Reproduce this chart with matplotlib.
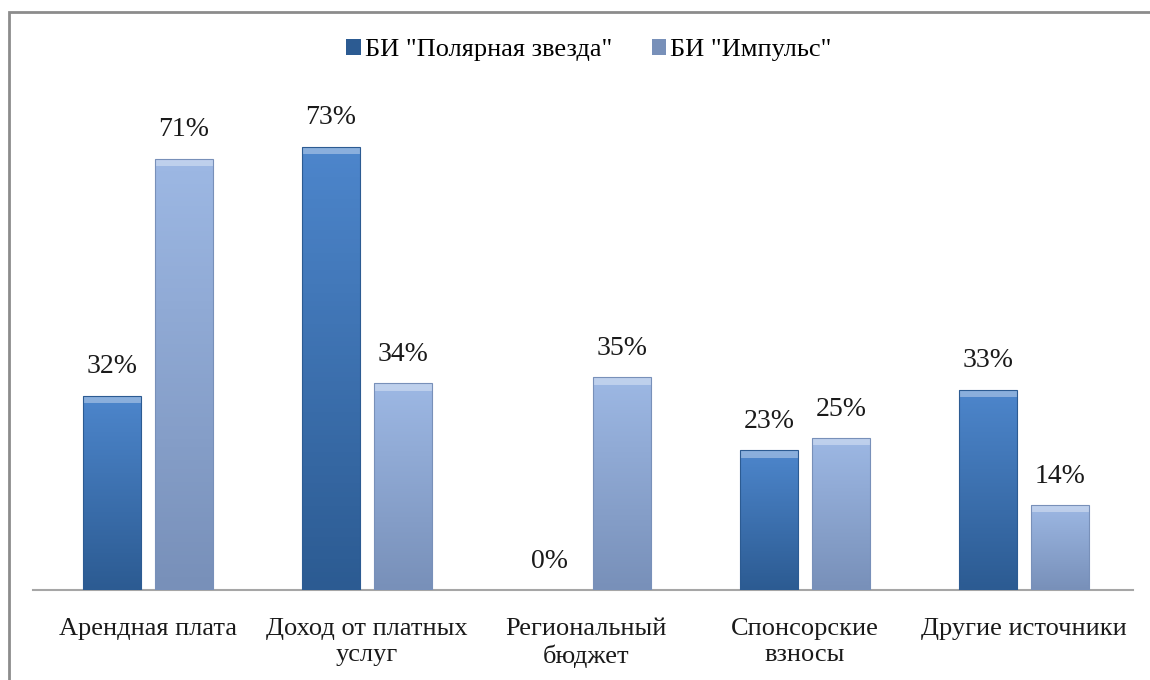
import matplotlib.pyplot as plt
import numpy as np
from matplotlib.patches import Rectangle
from matplotlib.colors import LinearSegmentedColormap

categories = ["Арендная плата", "Доход от платных\nуслуг", "Региональный\nбюджет",
              "Спонсорские\nвзносы", "Другие источники"]
polar_star = [0.32, 0.73, 0.0, 0.23, 0.33]
impulse = [0.71, 0.34, 0.35, 0.25, 0.14]
series_names = ['БИ "Полярная звезда"', 'БИ "Импульс"']

plt.rcParams["font.family"] = ["Liberation Serif", "DejaVu Serif"]

W, H = 1150, 680
FS = 19
CAT = 219  # px per category
fig = plt.figure(figsize=(W / 100, H / 100), dpi=100)
# axes: baseline at y=590 px, from 33 to 1133 px, top (0.8) at 104 px
ax = fig.add_axes([33 / W, (H - 590) / H, 1100 / W, (590 - 104) / H])

x = np.arange(len(categories))
width = 58 / CAT
offset = 36 / CAT
colors = [("#4d86cc", "#2c5b92"), ("#9db8e4", "#7890b9")]

for vals, off, (ctop, cbot), name in zip([polar_star, impulse], [-offset, offset], colors, series_names):
    bars = ax.bar(x + off, vals, width, color=cbot, edgecolor="none", label=name, zorder=2)
    cmap = LinearSegmentedColormap.from_list("g", [cbot, ctop])
    for b, v in zip(bars, vals):
        x0, w = b.get_x(), b.get_width()
        if v > 0:
            grad = np.linspace(1, 0, 100).reshape(-1, 1)
            im = ax.imshow(grad, extent=[x0, x0 + w, 0, v], aspect="auto", cmap=cmap,
                           vmin=0, vmax=1, zorder=3, origin="upper")
            im.set_clip_path(b)
            # bevel highlight at the top
            ax.add_patch(Rectangle((x0, v - 0.012), w, 0.012, facecolor="white", alpha=0.35,
                                   edgecolor="none", zorder=4))
            ax.add_patch(Rectangle((x0, 0), w, v, facecolor="none", edgecolor=cbot,
                                   linewidth=0.8, zorder=5))
        ax.text(x0 + w / 2, v + 0.027, f"{v * 100:.0f}%", ha="center", va="bottom",
                fontsize=20, color="#1a1a1a", zorder=6)

left = -(148 - 33) / CAT
ax.set_xlim(left, left + 1100 / CAT)
ax.set_ylim(0, 0.8)
ax.set_xticks(x)
ax.set_xticklabels(categories, fontsize=FS, color="#1a1a1a", linespacing=1.25)
ax.tick_params(axis="x", length=0, pad=20)
ax.set_yticks([])
for s in ["top", "right", "left"]:
    ax.spines[s].set_visible(False)
ax.spines["bottom"].set_color("#a6a6a6")
ax.spines["bottom"].set_linewidth(1.5)

leg = ax.legend(loc="center", bbox_to_anchor=((589 - 33) / 1100, 1 + (104 - 50) / 486), ncol=2,
                frameon=False, fontsize=FS, handlelength=0.55, handleheight=0.55,
                handletextpad=0.15, columnspacing=1.5)

# chart frame (only left and top edges visible)
fig.add_artist(Rectangle((9 / W, -0.1), 1.2, (H - 12) / H + 0.1, transform=fig.transFigure,
                         facecolor="none", edgecolor="#8c8c8c", linewidth=2))

fig.savefig("out.png", dpi=100)
